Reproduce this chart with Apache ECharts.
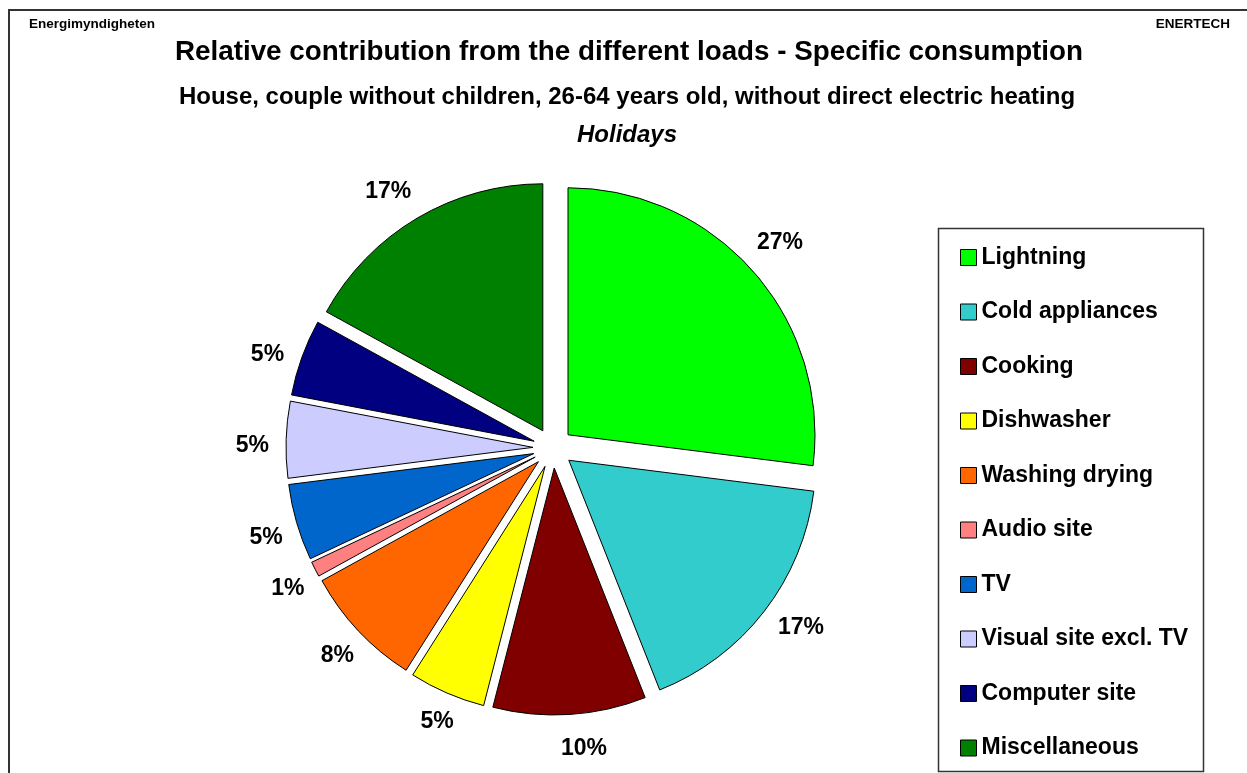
<!DOCTYPE html>
<html>
<head>
<meta charset="utf-8">
<script src="https://cdn.jsdelivr.net/npm/echarts@6/dist/echarts.min.js"></script>
<style>
html,body{margin:0;padding:0;background:#fff;}
#chart{width:1247px;height:773px;}
</style>
</head>
<body>
<div id="chart"></div>
<script>
var categories = ['Lightning','Cold appliances','Cooking','Dishwasher','Washing drying','Audio site','TV','Visual site excl. TV','Computer site','Miscellaneous'];
var values = [27, 17, 10, 5, 8, 1, 5, 5, 5, 17];
var colors = ['#00FF00','#33CCCC','#800000','#FFFF00','#FF6600','#FF8080','#0066CC','#CCCCFF','#000080','#008000'];
var titleText = 'Relative contribution from the different loads - Specific consumption';
var subtitleText = 'House, couple without children, 26-64 years old, without direct electric heating';
var periodText = 'Holidays';
var leftNote = 'Energimyndigheten';
var rightNote = 'ENERTECH';

var FONT = 'Liberation Sans, Arial, sans-serif';
var chart = echarts.init(document.getElementById('chart'), null, {renderer:'canvas'});

var pieData = categories.map(function(c,i){
  return {name:c, value:values[i], selected:true, itemStyle:{color:colors[i]}};
});

// Center each outside label on the slice's radial direction (as spreadsheet pies do)
function centerLabel(params){
  var pts = params.labelLinePoints;
  var r = params.labelRect;
  if (!pts || pts.length < 2 || !r) return {};
  var dx = pts[1][0] - pts[0][0], dy = pts[1][1] - pts[0][1];
  var len = Math.sqrt(dx*dx + dy*dy) || 1;
  dx /= len; dy /= len;
  var w = r.width, h = r.height;
  var ax = dx >= 0 ? r.x : r.x + w;
  var ay = r.y + h/2;
  var sup = w/2 - 4;
  var tang = 7; // slight counter-clockwise nudge
  var cx = ax + dx*sup + dy*tang, cy = ay + dy*sup - dx*tang;
  return {dx: cx - (r.x + w/2), dy: cy - (r.y + h/2)};
}

chart.setOption({
  animation:false,
  backgroundColor:'#fff',
  title:[
    {text:titleText, left:624, top:33, textAlign:'center',
     textStyle:{fontFamily:FONT, fontWeight:'bold', fontSize:27.8, color:'#000'}},
    {text:subtitleText, left:622, top:80, textAlign:'center',
     textStyle:{fontFamily:FONT, fontWeight:'bold', fontSize:24, color:'#000'}},
    {text:periodText, left:622, top:118, textAlign:'center',
     textStyle:{fontFamily:FONT, fontWeight:'bold', fontStyle:'italic', fontSize:24, color:'#000'}},
    {text:leftNote, left:24, top:12,
     textStyle:{fontFamily:FONT, fontWeight:'bold', fontSize:13.5, color:'#000'}},
    {text:rightNote, right:12, top:12,
     textStyle:{fontFamily:FONT, fontWeight:'bold', fontSize:13.5, color:'#000'}}
  ],
  legend:{
    orient:'vertical', left:955, top:241, height:540,
    itemWidth:16, itemHeight:16, itemGap:31.5,
    icon:'rect',
    selectedMode:false,
    data:categories,
    textStyle:{fontFamily:FONT, fontWeight:'bold', fontSize:23, color:'#000'},
    itemStyle:{borderColor:'#000', borderWidth:1}
  },
  graphic:[
    {type:'polyline', shape:{points:[[9,773],[9,10],[1247,10]]}, style:{stroke:'#333', lineWidth:2, fill:null}, silent:true},
    {type:'rect', shape:{x:938.5, y:228.5, width:265, height:543}, style:{stroke:'#333', lineWidth:1.5, fill:null}, silent:true, z:-1}
  ],
  series:[{
    type:'pie',
    center:[553,448],
    radius:247,
    startAngle:90,
    clockwise:true,
    selectedMode:'multiple',
    selectedOffset:20,
    avoidLabelOverlap:false,
    silent:true,
    data:pieData,
    itemStyle:{borderColor:'#000', borderWidth:1},
    select:{itemStyle:{borderColor:'#000', borderWidth:1}},
    label:{show:true, position:'outside', formatter:'{d}%', fontFamily:FONT, fontWeight:'bold', fontSize:23, color:'#000'},
    labelLine:{show:true, length:16, length2:0, lineStyle:{opacity:0, width:0}},
    labelLayout:centerLabel
  }]
});
</script>
</body>
</html>
